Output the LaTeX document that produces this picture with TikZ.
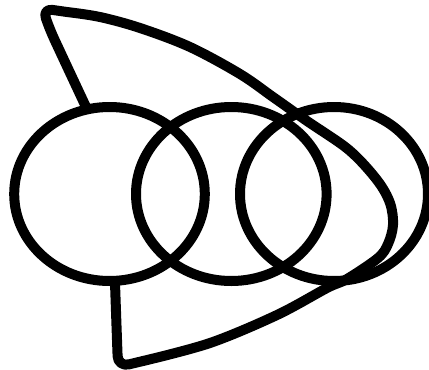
\documentclass[tikz,border=0pt]{standalone}
\begin{document}
\begin{tikzpicture}[x=1pt,y=-1pt,
  ink/.style={draw=black,line width=10pt,line cap=round,line join=round}]
\fill[white] (0,0) rectangle (429,370);
\useasboundingbox (0,0) rectangle (429,370);
\coordinate (c1) at (109.5,194);
\coordinate (c2) at (231.3,194);
\coordinate (c3) at (334,194);
\coordinate (s) at (86,107);
\coordinate (e) at (115,283);
% loop curve
\draw[ink,rounded corners=10pt] (s) -- (64,60) -- (50,30) -- (42.5,8.5) -- (67,12);
\draw[ink] plot[smooth,tension=0.55] coordinates {(67,12) (100,17) (140,28) (190,47) (240,74) (273,97) (307,121) (349,150) (377,180) (390,203) (393,225) (388,244) (378,258) (347,279) (327,288) (277,315) (210,343) (143,361)};
\draw[ink,rounded corners=11pt] (143,361) -- (118,367) -- (117,340) -- (e);
% rings
\draw[ink] (c1) ellipse[x radius=95.3,y radius=87];
\draw[ink] (c2) ellipse[x radius=95.3,y radius=87];
\draw[ink] (c3) ellipse[x radius=94,y radius=87];
\end{tikzpicture}
\end{document}
